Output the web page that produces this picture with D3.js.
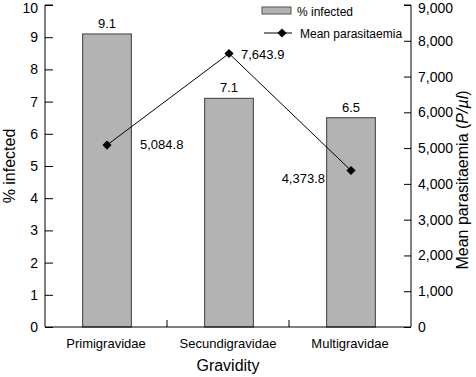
<!DOCTYPE html>
<html>
<head>
<meta charset="utf-8">
<script src="https://cdn.jsdelivr.net/npm/d3@7"></script>
<style>
  body { margin: 0; background: #fff; }
  svg text { font-family: "Liberation Sans", Arial, sans-serif; fill: #000; }
</style>
</head>
<body>
<div id="chart"></div>
<script>
// data
const categories = ["Primigravidae", "Secundigravidae", "Multigravidae"];
const infected = [9.1, 7.1, 6.5];
const parasitaemia = [5084.8, 7643.9, 4373.8];
const leftTicks = [0, 1, 2, 3, 4, 5, 6, 7, 8, 9, 10];
const rightTicks = [0, 1000, 2000, 3000, 4000, 5000, 6000, 7000, 8000, 9000];

const width = 476, height = 377;
const plotLeft = 45, plotRight = 411, plotTop = 5, plotBottom = 327;

const svg = d3.select("#chart").append("svg")
  .attr("width", width)
  .attr("height", height);

const x = d3.scaleBand().domain(categories).range([plotLeft, plotRight]).padding(0);
const yL = d3.scaleLinear().domain([0, 10]).range([plotBottom, plotTop]);
const yR = d3.scaleLinear().domain([0, 9000]).range([plotBottom, plotTop]);
const cx = d => x(d) + x.bandwidth() / 2 + 1;
const barW = x.bandwidth() * 0.4;

// bars
svg.selectAll("rect.bar")
  .data(categories)
  .enter().append("rect")
  .attr("class", "bar")
  .attr("x", d => cx(d) - barW / 2)
  .attr("y", (d, i) => yL(infected[i]))
  .attr("width", barW)
  .attr("height", (d, i) => plotBottom - yL(infected[i]))
  .attr("fill", "#b3b3b3")
  .attr("stroke", "#555")
  .attr("stroke-width", 1.2);

svg.selectAll("text.barlab")
  .data(categories)
  .enter().append("text")
  .attr("x", d => cx(d))
  .attr("y", (d, i) => yL(infected[i]) - 6)
  .attr("text-anchor", "middle")
  .attr("font-size", 13)
  .text((d, i) => infected[i].toFixed(1));

// left axis
const gL = svg.append("g")
  .attr("transform", `translate(${plotLeft},0)`)
  .call(d3.axisRight(yL).tickValues(leftTicks).tickSize(8).tickFormat(d3.format("d")));
gL.select(".domain").attr("d", `M8,${plotTop}H0V${plotBottom}`);
gL.selectAll("text").attr("x", -7).attr("text-anchor", "end").attr("font-size", 14);

// right axis
const gR = svg.append("g")
  .attr("transform", `translate(${plotRight},0)`)
  .call(d3.axisLeft(yR).tickValues(rightTicks).tickSize(7).tickFormat(d3.format(",")));
gR.select(".domain").attr("d", `M-7,${plotTop}H0V${plotBottom}`);
gR.selectAll("text").attr("x", 7).attr("text-anchor", "start").attr("font-size", 14);

// keep the top labels inside the picture
gL.selectAll(".tick text").filter(d => d === 10).attr("y", 3);
gR.selectAll(".tick text").filter(d => d === 9000).attr("y", 3);

// bottom axis
const gB = svg.append("g")
  .attr("transform", `translate(0,${plotBottom})`);
gB.append("line").attr("x1", plotLeft).attr("x2", plotRight).attr("stroke", "#000");
gB.selectAll("line.tick")
  .data(categories.slice(1))
  .enter().append("line")
  .attr("x1", d => x(d)).attr("x2", d => x(d))
  .attr("y1", 0).attr("y2", -7)
  .attr("stroke", "#000");
gB.selectAll("text.cat")
  .data(categories)
  .enter().append("text")
  .attr("x", d => x(d) + x.bandwidth() / 2)
  .attr("y", 21)
  .attr("text-anchor", "middle")
  .attr("font-size", 13)
  .text(d => d);

svg.selectAll(".tick text").attr("fill", "#000");
svg.selectAll(".tick line, .domain").attr("stroke", "#000");

// line series
const line = d3.line()
  .x((d, i) => cx(categories[i]))
  .y(d => yR(d));
svg.append("path")
  .datum(parasitaemia)
  .attr("d", line)
  .attr("fill", "none")
  .attr("stroke", "#000")
  .attr("stroke-width", 1);

const diamond = d3.symbol().type(d3.symbolSquare).size(42);
svg.selectAll("path.pt")
  .data(parasitaemia)
  .enter().append("path")
  .attr("class", "pt")
  .attr("d", diamond)
  .attr("transform", (d, i) => `translate(${cx(categories[i])},${yR(d)}) rotate(45)`)
  .attr("fill", "#000");

const fmt = d3.format(",.1f");
const ptLabelDx = [33, 12, -26];
const ptLabelDy = [4, 5, 12];
const ptAnchor = ["start", "start", "end"];
svg.selectAll("text.ptlab")
  .data(parasitaemia)
  .enter().append("text")
  .attr("x", (d, i) => cx(categories[i]) + ptLabelDx[i])
  .attr("y", (d, i) => yR(d) + ptLabelDy[i])
  .attr("text-anchor", (d, i) => ptAnchor[i])
  .attr("font-size", 13)
  .text(d => fmt(d));

// axis titles
svg.append("text")
  .attr("transform", `translate(15,${(plotTop + plotBottom) / 2}) rotate(-90)`)
  .attr("text-anchor", "middle")
  .attr("font-size", 16)
  .text("% infected");

const tR = svg.append("text")
  .attr("transform", `translate(468,180) rotate(-90)`)
  .attr("text-anchor", "middle")
  .attr("font-size", 16);
tR.append("tspan").text("Mean parasitaemia (");
tR.append("tspan").attr("font-style", "italic").text("P/µl");
tR.append("tspan").text(")");

svg.append("text")
  .attr("x", (plotLeft + plotRight) / 2)
  .attr("y", 371)
  .attr("text-anchor", "middle")
  .attr("font-size", 16)
  .text("Gravidity");

// legend
const lg = svg.append("g");
lg.append("rect")
  .attr("x", 262).attr("y", 7).attr("width", 29).attr("height", 7)
  .attr("fill", "#b3b3b3").attr("stroke", "#555");
lg.append("text").attr("x", 297).attr("y", 16).attr("font-size", 12).text("% infected");
lg.append("line")
  .attr("x1", 264).attr("x2", 292).attr("y1", 33).attr("y2", 33)
  .attr("stroke", "#000");
lg.append("path")
  .attr("d", diamond)
  .attr("transform", "translate(282,33) rotate(45)")
  .attr("fill", "#000");
lg.append("text").attr("x", 300).attr("y", 38).attr("font-size", 12).text("Mean parasitaemia");
</script>
</body>
</html>
